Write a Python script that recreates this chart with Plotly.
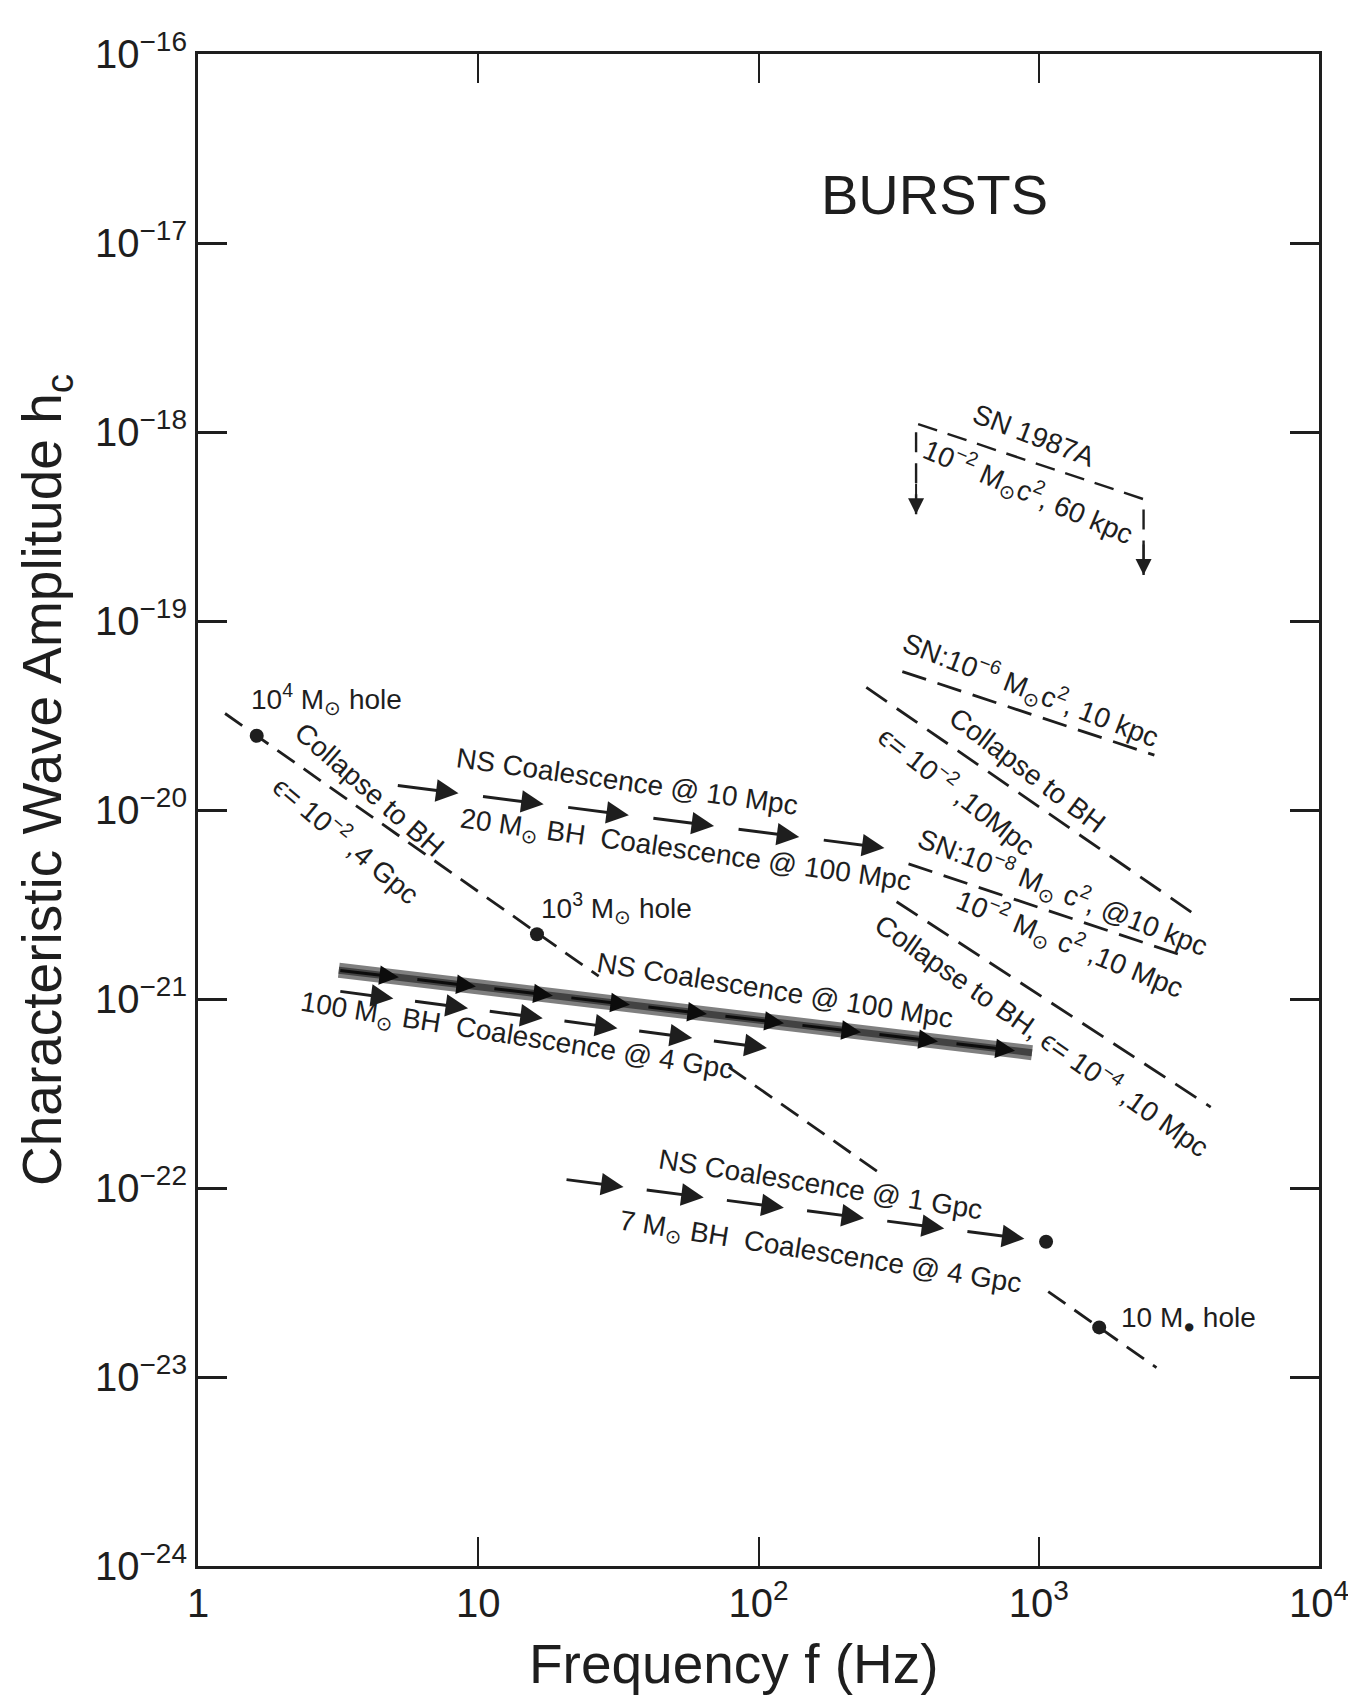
import numpy as np
import plotly.graph_objects as go

# ---------------- data ----------------
x_tick_vals = [1, 10, 100, 1000, 10000]
x_tick_text = ["1", "10", "10<sup>2</sup>", "10<sup>3</sup>", "10<sup>4</sup>"]
y_exponents = [-24, -23, -22, -21, -20, -19, -18, -17, -16]
y_tick_vals = [10.0 ** e for e in y_exponents]
y_tick_text = ["10<sup>\u2212%d</sup>" % (-e) for e in y_exponents]

# dashed burst estimates (frequency Hz, characteristic amplitude)
sn1987a_f = [365, 365, 2366, 2366]
sn1987a_h = [3.67e-19, 1.11e-18, 4.41e-19, 1.75e-19]
sn6_f = [326, 2586]
sn6_h = [5.40e-20, 1.95e-20]
coll2_10mpc_f = [242.5, 3530]
coll2_10mpc_h = [4.45e-20, 2.86e-21]
sn8_f = [343, 3407]
sn8_h = [5.19e-21, 1.66e-21]
coll4_10mpc_f = [311, 4108]
coll4_10mpc_h = [3.27e-21, 2.68e-22]
coll2_4gpc_f = [1.249, 26.9, None, 78.3, 279.4, None, 1081, 2631]
coll2_4gpc_h = [3.24e-20, 1.32e-21, None, 4.36e-22, 1.16e-22, None, 2.83e-23, 1.12e-23]
hole_f = [1.62, 16.2, 1643]
hole_h = [2.47e-20, 2.20e-21, 1.83e-23]

# coalescence (arrow) tracks
ns10_f = [5.10, 340]
ns10_h = [1.35e-20, 6.08e-21]
ns100_f = [3.18, 946]
ns100_h = [1.42e-21, 5.20e-22]
bh100_f = [3.18, 126.5]
bh100_h = [1.10e-21, 5.33e-22]
ns1g_f = [20.4, 1062]
ns1g_h = [1.11e-22, 5.20e-23]

# labels: text, f, h, angle, anchor
labels = [
    ("SN 1987A", 960, 9.6e-19, 21, "center"),
    ("10<sup>\u22122</sup> M<sub>\u2299</sub>c<sup>2</sup>, 60 kpc", 920, 4.84e-19, 23, "center"),
    ("SN:10<sup>\u22126</sup> M<sub>\u2299</sub>c<sup>2</sup>, 10 kpc", 937.6, 4.3e-20, 21, "center"),
    ("Collapse to BH", 912, 1.62e-20, 37, "center"),
    ("\u03f5= 10<sup>\u22122</sup> ,10Mpc", 516, 1.28e-20, 38, "center"),
    ("SN:10<sup>\u22128</sup> M<sub>\u2299</sub> c<sup>2</sup>, @10 kpc", 1213, 3.68e-21, 21, "center"),
    ("10<sup>\u22122</sup> M<sub>\u2299</sub> c<sup>2</sup> ,10 Mpc", 1291, 1.95e-21, 22, "center"),
    ("Collapse to BH, \u03f5= 10<sup>\u22124</sup> ,10 Mpc", 1033, 6.50e-22, 35, "center"),
    ("10<sup>4</sup> M<sub>\u2299</sub> hole", 1.519, 3.87e-20, 0, "left"),
    ("Collapse to BH", 4.08, 1.28e-20, 41, "center"),
    ("\u03f5= 10<sup>\u22122</sup> ,4 Gpc", 3.41, 7.03e-21, 40, "center"),
    ("NS Coalescence @ 10 Mpc", 33.9, 1.42e-20, 8, "center"),
    ("20 M<sub>\u2299</sub> BH  Coalescence @ 100 Mpc", 54.8, 6.0e-21, 8, "center"),
    ("10<sup>3</sup> M<sub>\u2299</sub> hole", 16.5, 3.02e-21, 0, "left"),
    ("NS Coalescence @ 100 Mpc", 114.8, 1.104e-21, 9, "center"),
    ("100 M<sub>\u2299</sub> BH  Coalescence @ 4 Gpc", 13.8, 6.25e-22, 9, "center"),
    ("NS Coalescence @ 1 Gpc", 166.7, 1.05e-22, 9, "center"),
    ("7 M<sub>\u2299</sub> BH  Coalescence @ 4 Gpc", 165.2, 4.5e-23, 9, "center"),
    ("10 M<sub>\u25cf</sub> hole", 1928, 2.01e-23, 0, "left"),
]

# ---------------- style ----------------
INK = "#1e1e1e"
FONT = "Liberation Sans, Arial, sans-serif"
DASH = "25px,12px"
LW = 2.8

fig = go.Figure()


def dashed(fx, hy, dash=DASH, width=LW):
    fig.add_trace(go.Scatter(x=fx, y=hy, mode="lines", connectgaps=False,
                             line=dict(color=INK, width=width, dash=dash),
                             hoverinfo="skip", showlegend=False))


dashed(sn1987a_f, sn1987a_h, dash="20px,11px", width=2.4)
dashed(sn6_f, sn6_h)
dashed(coll2_10mpc_f, coll2_10mpc_h)
dashed(sn8_f, sn8_h)
dashed(coll4_10mpc_f, coll4_10mpc_h)
dashed(coll2_4gpc_f, coll2_4gpc_h, dash="21px,11px")

# smeared band for NS coalescence @ 100 Mpc
fig.add_trace(go.Scatter(x=ns100_f, y=ns100_h, mode="lines",
                         line=dict(color="rgba(95,95,95,0.8)", width=15),
                         hoverinfo="skip", showlegend=False))
fig.add_trace(go.Scatter(x=ns100_f, y=ns100_h, mode="lines",
                         line=dict(color="rgba(40,40,40,0.7)", width=7),
                         hoverinfo="skip", showlegend=False))

# dots for holes and the end of the 7 Msun coalescence
fig.add_trace(go.Scatter(x=hole_f, y=hole_h, mode="markers",
                         marker=dict(color=INK, size=14),
                         hoverinfo="skip", showlegend=False))
fig.add_trace(go.Scatter(x=[ns1g_f[-1]], y=[ns1g_h[-1]], mode="markers",
                         marker=dict(color=INK, size=14),
                         hoverinfo="skip", showlegend=False))

annotations = []


def arrow_track(fx, hy, n, gap=0.27, width=3, size=1.5, color=INK):
    lx0, lx1 = np.log10(fx[0]), np.log10(fx[1])
    ly0, ly1 = np.log10(hy[0]), np.log10(hy[1])
    for i in range(n):
        t0 = i / n
        t1 = (i + 1 - gap) / n
        annotations.append(dict(
            x=lx0 + (lx1 - lx0) * t1, y=ly0 + (ly1 - ly0) * t1,
            ax=lx0 + (lx1 - lx0) * t0, ay=ly0 + (ly1 - ly0) * t0,
            xref="x", yref="y", axref="x", ayref="y", text="",
            showarrow=True, arrowhead=2, arrowsize=size, arrowwidth=width,
            arrowcolor=color, standoff=0))


arrow_track(ns10_f, ns10_h, 6)
arrow_track(ns100_f, ns100_h, 9, gap=0.22, color="#0c0c0c", size=1.3)
arrow_track(bh100_f, bh100_h, 6)
arrow_track(ns1g_f, ns1g_h, 6)

# arrow tips of SN1987A bracket
for k in (0, 3):
    fk = sn1987a_f[k]
    tip = np.log10(sn1987a_h[k])
    annotations.append(dict(x=np.log10(fk), y=tip, ax=np.log10(fk), ay=tip + 0.17,
                            xref="x", yref="y", axref="x", ayref="y", text="",
                            showarrow=True, arrowhead=2, arrowsize=1.6, arrowwidth=2,
                            arrowcolor=INK, standoff=0))

for text, fx, hy, ang, anc in labels:
    annotations.append(dict(x=np.log10(fx), y=np.log10(hy), xref="x", yref="y",
                            text=text, showarrow=False, textangle=ang,
                            xanchor=anc, yanchor="middle",
                            font=dict(family=FONT, size=28, color=INK)))

annotations.append(dict(x=np.log10(425), y=np.log10(1.80e-17), xref="x", yref="y",
                        text="BURSTS", showarrow=False,
                        font=dict(family=FONT, size=56, color=INK)))

# axis titles
annotations.append(dict(x=0.478, y=-0.0649, xref="paper", yref="paper",
                        text="Frequency f (Hz)", showarrow=False,
                        xanchor="center", yanchor="middle",
                        font=dict(family=FONT, size=55, color=INK)))
annotations.append(dict(x=-0.1354, y=0.520, xref="paper", yref="paper",
                        text="Characteristic Wave Amplitude h<sub>c</sub>", showarrow=False,
                        textangle=-90, xanchor="center", yanchor="middle",
                        font=dict(family=FONT, size=55, color=INK)))

axis_common = dict(type="log", showgrid=False, zeroline=False, showline=True,
                   linecolor=INK, linewidth=3, mirror="ticks", ticks="inside",
                   ticklen=29, tickcolor=INK,
                   tickfont=dict(family=FONT, size=40, color=INK))

fig.update_layout(
    width=1356, height=1701,
    margin=dict(l=190, r=45, t=46, b=143),
    paper_bgcolor="white", plot_bgcolor="white",
    showlegend=False,
    annotations=annotations,
    xaxis=dict(axis_common, range=[0, 4], tickmode="array", tickvals=x_tick_vals,
               ticktext=x_tick_text, tickwidth=2),
    yaxis=dict(axis_common, range=[-24, -16], tickmode="array", tickvals=y_tick_vals,
               ticktext=y_tick_text, tickwidth=3),
)

fig.write_html("out.html")
